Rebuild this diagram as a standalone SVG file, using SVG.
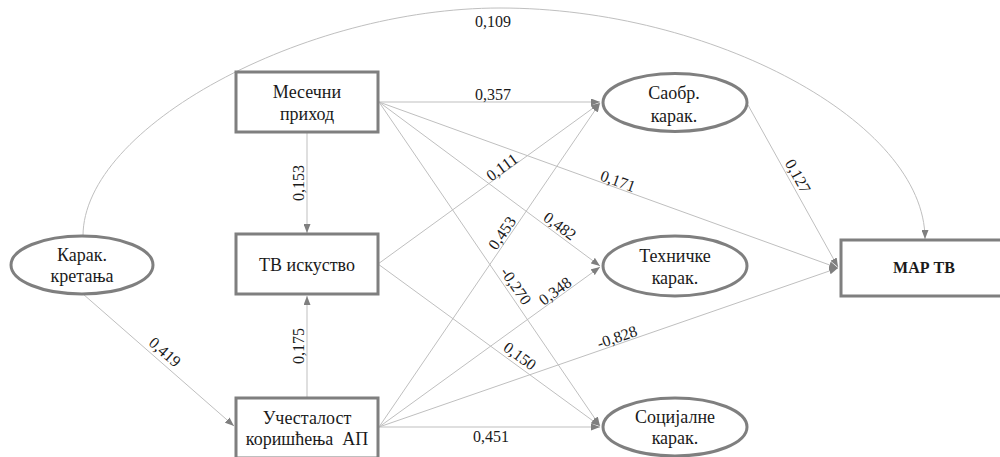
<svg xmlns="http://www.w3.org/2000/svg" width="1000" height="457" viewBox="0 0 1000 457" font-family="Liberation Serif, Times New Roman, DejaVu Serif, serif">
<defs>
<style>
.node{fill:#fff;stroke:#7f7f7f;stroke-width:3}
.t{font-family:'Liberation Serif','Times New Roman','DejaVu Serif',serif;font-size:18px;fill:#1a1a1a;text-anchor:middle}
.b{font-weight:bold;font-size:16px}
.e{fill:none;stroke:#bfbfbf;stroke-width:1;marker-end:url(#ah)}
.l{font-family:'Liberation Serif','Times New Roman','DejaVu Serif',serif;font-size:16px;fill:#1a1a1a;text-anchor:middle;dominant-baseline:central}
</style>
<marker id="ah" markerUnits="userSpaceOnUse" markerWidth="9" markerHeight="7" refX="9" refY="3.5" orient="auto">
<path d="M0,0 L9,3.5 L0,7 z" fill="#7f7f7f"/>
</marker>
</defs>
<rect width="1000" height="457" fill="#fff"/>
<g id="connectors">
<path class="e" d="M379,102 L600,102"/>
<path class="e" d="M379,102 L600,266"/>
<path class="e" d="M379,102 L600,426"/>
<path class="e" d="M379,102 L838,268"/>
<path class="e" d="M307,133 L307,233"/>
<path class="e" d="M378,264 L600,103"/>
<path class="e" d="M378,264 L600,426"/>
<path class="e" d="M379,427 L600,103"/>
<path class="e" d="M379,427 L600,267"/>
<path class="e" d="M379,427 L838,268"/>
<path class="e" d="M379,427 L600,427"/>
<path class="e" d="M307,397 L307,296"/>
<path class="e" d="M83,294 L234,426"/>
<path class="e" d="M748,105 L838,267"/>
<path class="e" d="M83,236 C83,127 304,8 500,8 C712,8 925,122 925,239"/>
<text class="l" x="493" y="21">0,109</text>
<text class="l" x="493" y="94">0,357</text>
<text class="l" transform="rotate(-90 298 183)" x="298" y="183">0,153</text>
<text class="l" transform="rotate(-90 298 346)" x="298" y="346">0,175</text>
<text class="l" transform="rotate(41 165 352)" x="165" y="352">0,419</text>
<text class="l" transform="rotate(-36 502 167)" x="502" y="167">0,111</text>
<text class="l" transform="rotate(20 618 181)" x="618" y="181">0,171</text>
<text class="l" transform="rotate(61 798 176)" x="798" y="176">0,127</text>
<text class="l" transform="rotate(36 560 226)" x="560" y="226">0,482</text>
<text class="l" transform="rotate(-55.5 502 233)" x="502" y="233">0,453</text>
<text class="l" transform="rotate(55.5 516 286)" x="516" y="286">-0,270</text>
<text class="l" transform="rotate(-36 555 291)" x="555" y="291">0,348</text>
<text class="l" transform="rotate(36 520 356)" x="520" y="356">0,150</text>
<text class="l" transform="rotate(-19 617 337)" x="617" y="337">-0,828</text>
<text class="l" x="491" y="436">0,451</text>
</g>
<g id="mesecni">
<rect class="node" x="236" y="72" width="142" height="60"/>
<text class="t" x="307" y="98">Месечни</text>
<text class="t" x="307" y="120">приход</text>
</g>
<g id="tv">
<rect class="node" x="236" y="234" width="142" height="60"/>
<text class="t" x="307" y="271">ТВ искуство</text>
</g>
<g id="ucestalost">
<rect class="node" x="236" y="398" width="142" height="60"/>
<text class="t" x="307" y="424">Учесталост</text>
<text class="t" x="307" y="445" xml:space="preserve">коришћења  АП</text>
</g>
<g id="kretanja">
<ellipse class="node" cx="82" cy="265" rx="71" ry="29"/>
<text class="t" x="82" y="261">Карак.</text>
<text class="t" x="82" y="282">кретања</text>
</g>
<g id="saobr">
<ellipse class="node" cx="675" cy="102.5" rx="72" ry="29"/>
<text class="t" x="674" y="99">Саобр.</text>
<text class="t" x="674" y="122">карак.</text>
</g>
<g id="tehnicke">
<ellipse class="node" cx="675" cy="266" rx="72" ry="30"/>
<text class="t" x="675" y="262">Техничке</text>
<text class="t" x="675" y="284">карак.</text>
</g>
<g id="socijalne">
<ellipse class="node" cx="675" cy="427" rx="72" ry="29"/>
<text class="t" x="675" y="423">Социјалне</text>
<text class="t" x="675" y="444">карак.</text>
</g>
<g id="martv">
<rect class="node" x="841" y="240" width="170" height="56"/>
<text class="t b" x="924" y="273">МАР ТВ</text>
</g>
</svg>
